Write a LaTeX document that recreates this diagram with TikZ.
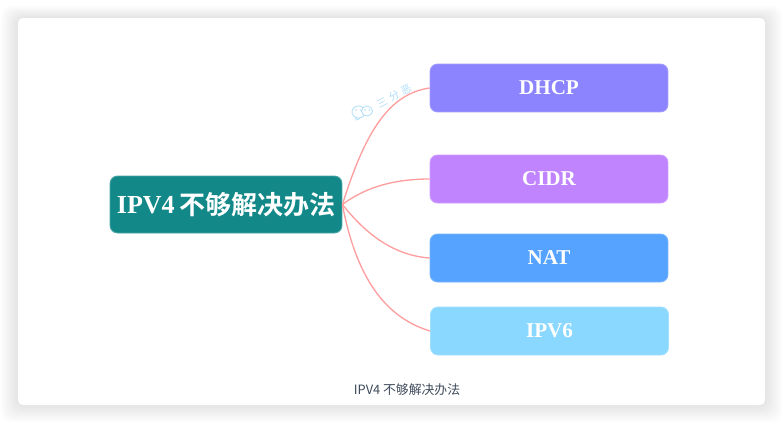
\documentclass[tikz,border=0pt]{standalone}
\usepackage{xcolor}
\usepackage{fontspec}
\setmainfont{Liberation Serif}
\newfontfamily\cjkbold[BoldFont={Noto Sans CJK SC Bold}]{Noto Sans CJK SC}
\newfontfamily\capfont{Noto Sans CJK SC}
\usetikzlibrary{positioning}
\definecolor{rootteal}{RGB}{18, 136, 136}
\definecolor{dhcpblue}{RGB}{140, 132, 255}
\definecolor{cidrpurple}{RGB}{192, 132, 255}
\definecolor{natblue}{RGB}{85, 163, 255}
\definecolor{ipvsky}{RGB}{138, 216, 255}
\definecolor{linkred}{RGB}{255, 158, 158}
\definecolor{markblue}{RGB}{175, 222, 250}
\definecolor{capgray}{RGB}{62, 74, 90}
\tikzset{
  rootbox/.style={fill=rootteal, draw=rootteal!75!white, line width=0.5pt, rounded corners=0.15cm, minimum width=4.64cm, minimum height=1.14cm, inner sep=0pt, text=white, font=\fontsize{14.8}{16}\selectfont\bfseries},
  leafbox/.style={draw=#1!80!white, fill=#1, line width=0.5pt, rounded corners=0.15cm, minimum width=4.76cm, minimum height=0.96cm, inner sep=0pt, text=white, font=\fontsize{12}{14}\selectfont\bfseries},
  link/.style={draw=linkred, line width=0.75pt},
}
\begin{document}
\begin{tikzpicture}[x=0.02cm, y=-0.02cm]
\useasboundingbox (0,0) rectangle (783,423);
% card with soft shadow
\foreach \i in {17,15,...,1} {
  \fill[black, opacity=0.013, rounded corners=0.2cm] (18-\i,18-\i*0.7) rectangle (765+\i,405+\i);
}
\fill[white, rounded corners=0.1cm] (18,18) rectangle (765,405);

% mind map
\node[rootbox] (root) at (226,204.5) {\raisebox{0.5pt}{IPV4}{\cjkbold\bfseries\,不够解决办法}};
\node[leafbox=dhcpblue] (dhcp) at (549,88) {DHCP};
\node[leafbox=cidrpurple] (cidr) at (549,179) {CIDR};
\node[leafbox=natblue] (nat) at (549,258) {NAT};
\node[leafbox=ipvsky] (ipv) at (549.5,331) {IPV6};

\draw[link] (root.east) .. controls +(22,-70) and +(-42,6) .. (dhcp.west);
\draw[link] (root.east) .. controls +(20,-15) and +(-40,0) .. (cidr.west);
\draw[link] (root.east) .. controls +(20,25) and +(-40,-3) .. (nat.west);
\draw[link] (root.east) .. controls +(15,80) and +(-40,-12) .. (ipv.west);

% watermark
\node[rotate=28, text=markblue, font=\capfont\fontsize{5.8}{6}\selectfont] (mark) at (394,96) {三\,\,分\,\,恶};
\draw[markblue, line width=0.45pt, fill=white] (358.5,112) ellipse (6.5 and 6);
\draw[markblue, line width=0.45pt, fill=white] (367,111) ellipse (5.5 and 5);
\draw[markblue, line width=0.45pt] (355,117.5) -- (357,120) -- (360,118);
\fill[markblue] (356,110) circle (0.8) (361,110) circle (0.8) (365,110) circle (0.8) (369.5,110) circle (0.8);

% caption
\node[text=capgray, font=\capfont\fontsize{7.3}{9}\selectfont] (cap) at (407,390) {IPV4 不够解决办法};
\end{tikzpicture}
\end{document}
